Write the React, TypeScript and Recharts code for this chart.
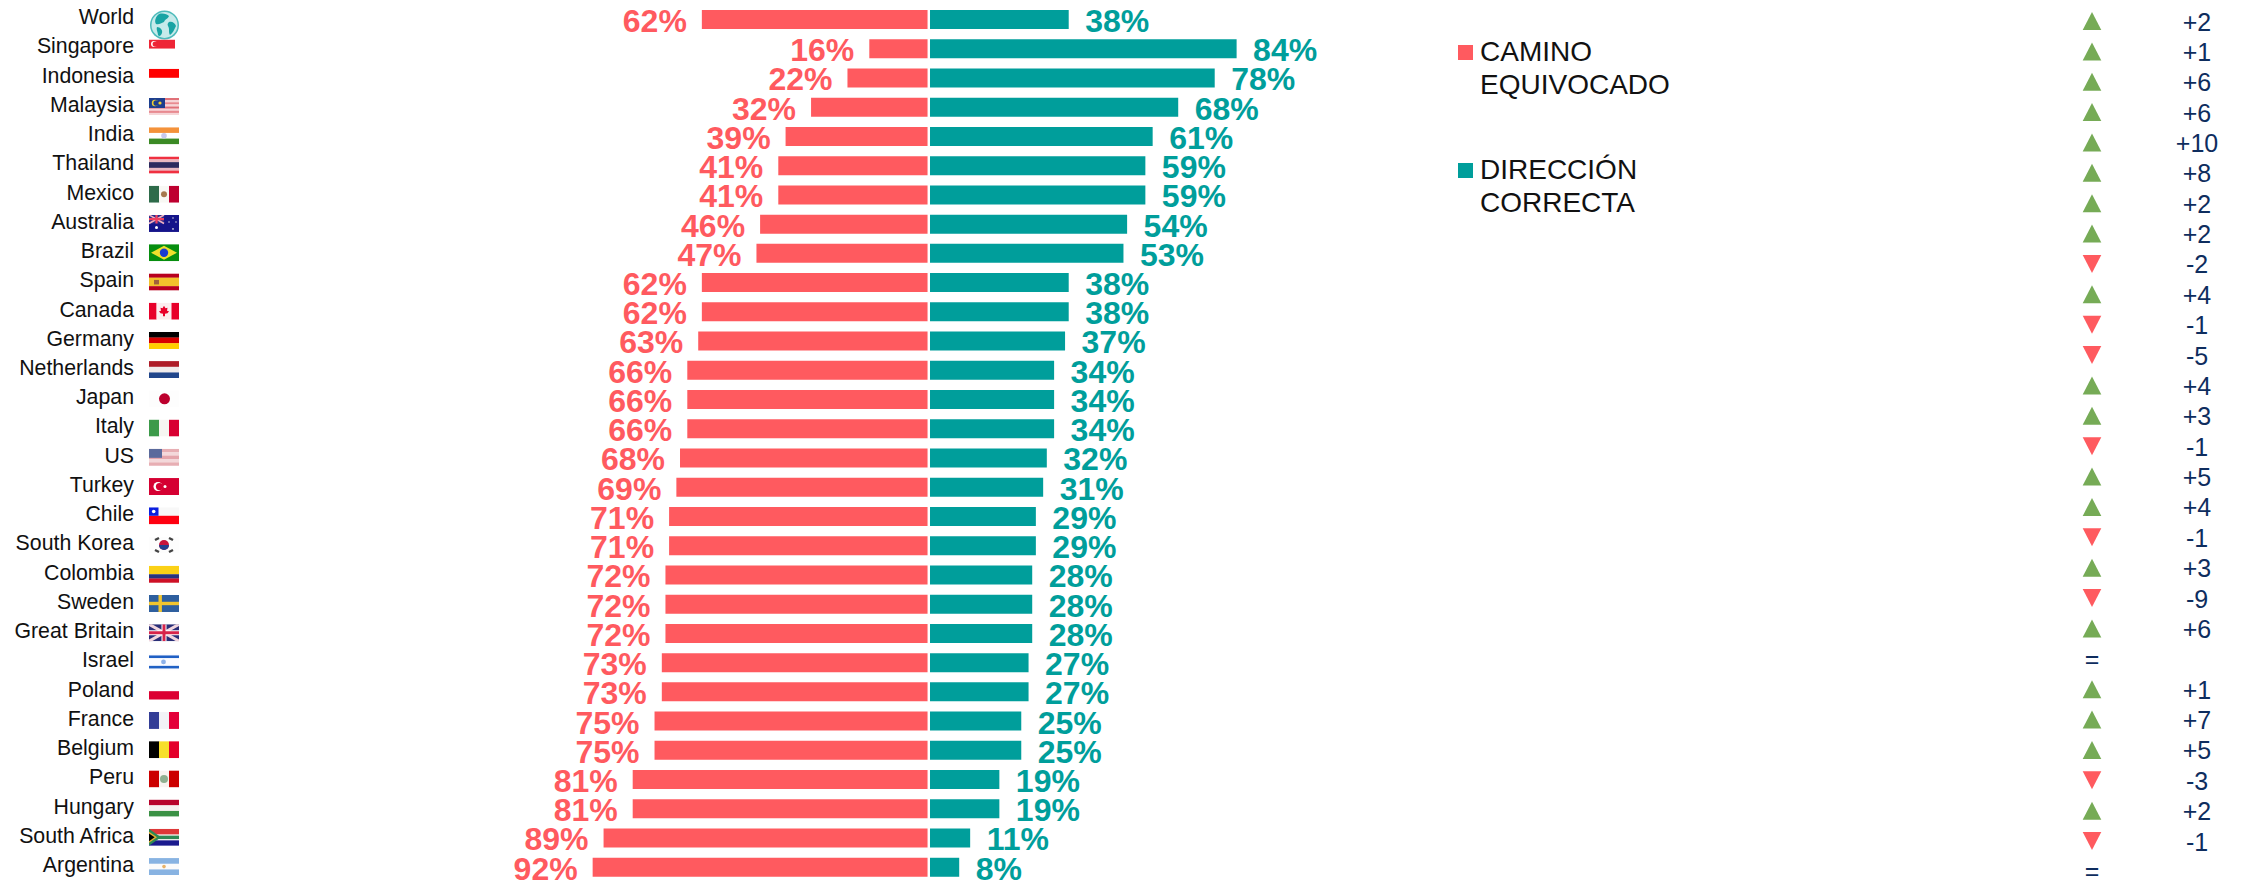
import React from "react";
import { BarChart, Bar, XAxis, YAxis, ReferenceLine, LabelList, Legend } from "recharts";

const countries = ["World","Singapore","Indonesia","Malaysia","India","Thailand","Mexico","Australia","Brazil","Spain","Canada","Germany","Netherlands","Japan","Italy","US","Turkey","Chile","South Korea","Colombia","Sweden","Great Britain","Israel","Poland","France","Belgium","Peru","Hungary","South Africa","Argentina"];
const wrongTrack = [62,16,22,32,39,41,41,46,47,62,62,63,66,66,66,68,69,71,71,72,72,72,73,73,75,75,81,81,89,92];
const rightDirection = [38,84,78,68,61,59,59,54,53,38,38,37,34,34,34,32,31,29,29,28,28,28,27,27,25,25,19,19,11,8];
const changes = ["+2","+1","+6","+6","+10","+8","+2","+2","-2","+4","-1","-5","+4","+3","-1","+5","+4","-1","+3","-9","+6","=","+1","+7","+5","-3","+2","-1","="];
const legendLabels = [["CAMINO","EQUIVOCADO"],["DIRECCIÓN","CORRECTA"]];

const RED = "#FF5A5F";
const TEAL = "#009E9B";
const GREEN = "#76AB56";
const NAVY = "#0E2D5E";
const FONT = "'Liberation Sans', Arial, sans-serif";

const tableData = countries.map((name, i) => ({ name, row: i, wrong: wrongTrack[i], right: rightDirection[i] }));
const changeRows = changes.map((_, i) => i);

const Stripes = ({ colors, vertical }: { colors: [string, number][]; vertical?: boolean }) => {
  const total = colors.reduce((s, c) => s + c[1], 0);
  let pos = 0;
  return (
    <g>
      {colors.map(([c, w], i) => {
        const start = pos;
        pos += w;
        return vertical ? (
          <rect key={i} x={(start / total) * 30} y={0} width={(w / total) * 30 + 0.2} height={17} fill={c} />
        ) : (
          <rect key={i} x={0} y={(start / total) * 17} width={30} height={(w / total) * 17 + 0.2} fill={c} />
        );
      })}
    </g>
  );
};

const flags: Record<string, React.ReactNode> = {
  Singapore: (
    <g>
      <rect width={26} height={9} fill="#EE2536" />
      <circle cx={5} cy={4.5} r={3} fill="#fff" />
      <circle cx={6.2} cy={4.5} r={2.6} fill="#EE2536" />
    </g>
  ),
  Indonesia: <rect width={30} height={9} fill="#FF0000" />,
  Malaysia: (
    <g>
      <Stripes colors={[["#E07078",1],["#F6D5D7",1],["#E88A90",1],["#F6D5D7",1],["#E07078",1],["#F6D5D7",1],["#E88A90",1],["#F6D5D7",1]]} />
      <rect width={16} height={10} fill="#1C3F8F" />
      <circle cx={6} cy={5} r={3.2} fill="#F0D030" />
      <circle cx={7.2} cy={5} r={2.8} fill="#1C3F8F" />
      <circle cx={11} cy={5} r={1.6} fill="#F0D030" />
    </g>
  ),
  India: (
    <g>
      <Stripes colors={[["#F4923A",1],["#ffffff",1],["#3B8A24",1]]} />
      <circle cx={15} cy={8.5} r={2.8} fill="#C9C9EC" />
    </g>
  ),
  Thailand: <Stripes colors={[["#F03040",1],["#E8B8C0",1],["#2C2A5E",2],["#E8B8C0",1],["#F03040",1]]} />,
  Mexico: (
    <g>
      <Stripes vertical colors={[["#2E6B4A",1],["#F8F8F4",1],["#BE0030",1]]} />
      <circle cx={15} cy={8.5} r={3} fill="#A5794E" />
    </g>
  ),
  Australia: (
    <g>
      <rect width={30} height={17} fill="#15148A" />
      <rect width={15} height={8.5} fill="#2A2E8E" />
      <path d="M0 0L15 8.5M15 0L0 8.5" stroke="#F0B0C0" strokeWidth={1.6} />
      <path d="M7.5 0V8.5M0 4.25H15" stroke="#F04060" strokeWidth={2.2} />
      <circle cx={7.5} cy={12.6} r={1.5} fill="#fff" />
      <circle cx={24} cy={3} r={0.8} fill="#ccd" />
      <circle cx={20} cy={7} r={0.8} fill="#ccd" />
      <circle cx={27} cy={7} r={0.8} fill="#ccd" />
      <circle cx={24} cy={14} r={0.9} fill="#ccd" />
    </g>
  ),
  Brazil: (
    <g>
      <rect width={30} height={17} fill="#078E0F" />
      <path d="M15 1.5L28 8.5L15 15.5L2 8.5Z" fill="#EFE02C" />
      <circle cx={15} cy={8.5} r={4.2} fill="#1A3CD0" />
    </g>
  ),
  Spain: (
    <g>
      <Stripes colors={[["#B8001F",1],["#F3C22C",2],["#B8001F",1]]} />
      <rect x={5} y={6.5} width={5} height={4.5} fill="#A0603C" />
    </g>
  ),
  Canada: (
    <g>
      <Stripes vertical colors={[["#E8002A",1],["#FBEDEF",2],["#E8002A",1]]} />
      <path d="M15 3L16.5 5.5L18.5 5L18 8L20 8.5L18.5 10.5L16 11V13.5H14V11L11.5 10.5L10 8.5L12 8L11.5 5L13.5 5.5Z" fill="#E8002A" />
    </g>
  ),
  Germany: <Stripes colors={[["#000000",1],["#D80000",1],["#FFCE00",1]]} />,
  Netherlands: <Stripes colors={[["#AE1C28",1],["#F0ECEC",1],["#21468B",1]]} />,
  Japan: (
    <g>
      <rect width={30} height={17} fill="#FDFDFD" />
      <circle cx={15.5} cy={8.5} r={5.5} fill="#BC002D" />
    </g>
  ),
  Italy: <Stripes vertical colors={[["#3C9A4A",1],["#F6F6F2",1],["#D80032",1]]} />,
  US: (
    <g>
      <Stripes colors={[["#E7AEB3",1],["#F3D8DA",1],["#E4A5AB",1],["#F3D8DA",1],["#E7AEB3",1]]} />
      <rect width={13} height={9} fill="#5A6A9C" />
    </g>
  ),
  Turkey: (
    <g>
      <rect width={30} height={17} fill="#D50032" />
      <circle cx={9} cy={8.5} r={4.5} fill="#fff" />
      <circle cx={10.5} cy={8.5} r={3.6} fill="#D50032" />
      <circle cx={16} cy={8.5} r={1.5} fill="#fff" />
    </g>
  ),
  Chile: (
    <g>
      <Stripes colors={[["#F8F8F8",1],["#FF0010",1]]} />
      <rect width={9.5} height={8.5} fill="#0B1FE0" />
      <circle cx={4.7} cy={4.2} r={1.8} fill="#fff" />
    </g>
  ),
  "South Korea": (
    <g>
      <rect width={30} height={17} fill="#FDFDFD" />
      <circle cx={15} cy={8.5} r={5} fill="#C8143C" />
      <path d="M10 8.5A5 5 0 0 0 20 8.5Z" fill="#23408F" />
      <path d="M6 3.5L10 1.5M20 1.5L24 3.5M6 13.5L10 15.5M20 15.5L24 13.5" stroke="#444" strokeWidth={2.4} />
    </g>
  ),
  Colombia: <Stripes colors={[["#FBD116",2],["#27347F",1],["#CE1126",1]]} />,
  Sweden: (
    <g>
      <rect width={30} height={17} fill="#2E5F9E" />
      <rect x={9.5} width={3.4} height={17} fill="#F2C52E" />
      <rect y={6.8} width={30} height={3.4} fill="#F2C52E" />
    </g>
  ),
  "Great Britain": (
    <g>
      <rect width={30} height={17} fill="#2A2E77" />
      <path d="M0 0L30 17M30 0L0 17" stroke="#F2D6DE" strokeWidth={3} />
      <path d="M15 0V17M0 8.5H30" stroke="#fff" strokeWidth={5} />
      <path d="M15 0V17M0 8.5H30" stroke="#D7244A" strokeWidth={3} />
    </g>
  ),
  Israel: (
    <g>
      <rect width={30} height={17} fill="#FBFBFF" />
      <rect y={2} width={30} height={2.6} fill="#1F5FC4" />
      <rect y={12.4} width={30} height={2.6} fill="#1F5FC4" />
      <circle cx={14.5} cy={8.5} r={2.4} fill="#8FB2EA" />
    </g>
  ),
  Poland: <rect y={8.5} width={30} height={8.5} fill="#DC0032" />,
  France: <Stripes vertical colors={[["#333D96",1],["#F2F2F6",1],["#E4003A",1]]} />,
  Belgium: <Stripes vertical colors={[["#000000",1],["#F7DF2A",1],["#E4002B",1]]} />,
  Peru: (
    <g>
      <Stripes vertical colors={[["#CC0000",1],["#F8F4F0",1],["#CC0000",1]]} />
      <circle cx={15} cy={8.5} r={4} fill="#8FB090" />
    </g>
  ),
  Hungary: <Stripes colors={[["#B8032C",1],["#F5F0F0",1],["#3B9145",1]]} />,
  "South Africa": (
    <g>
      <rect width={30} height={8.5} fill="#DE3838" />
      <rect y={8.5} width={30} height={8.5} fill="#1A1A8E" />
      <rect y={5.5} width={30} height={6} fill="#F4F4F0" />
      <rect y={6.8} width={30} height={3.4} fill="#2F8A55" />
      <path d="M0 0L12 8.5L0 17Z" fill="#2F8A55" />
      <path d="M0 3L8 8.5L0 14Z" fill="#E8B030" />
      <path d="M0 4.6L5.6 8.5L0 12.4Z" fill="#000" />
    </g>
  ),
  Argentina: (
    <g>
      <Stripes colors={[["#88B3E2",1],["#FBFBFB",1],["#88B3E2",1]]} />
      <circle cx={15} cy={8.5} r={1.8} fill="#E8B36A" />
    </g>
  ),
};

const Globe = () => (
  <g>
    <circle cx={15.5} cy={14} r={14.5} fill="#4DBBBB" />
    <circle cx={15.5} cy={14} r={13} fill="#C6EAEA" />
    <path d="M10 3C14 2 18 3 20 5C19 8 16 8 15 11C12 12 10 14 7 13C5 10 7 5 10 3Z" fill="#19A4A4" />
    <path d="M20 11C23 10 26 12 27 15C25 19 24 22 21 24C19 21 21 18 19 15C18 13 19 12 20 11Z" fill="#19A4A4" />
    <path d="M8 16C11 16 14 19 13 22C12 25 10 26 9 24C9 21 7 19 8 16Z" fill="#19A4A4" />
  </g>
);

const CountryTick = (props: any) => {
  const { y, payload } = props;
  const name = payload.value as string;
  return (
    <g>
      <text x={134} y={y + 4.6} textAnchor="end" fontFamily={FONT} fontSize={21.3} fill="#111">{name}</text>
      {name === "World" ? (
        <svg x={149} y={y - 8.7} width={31} height={29} viewBox="0 0 31 29" overflow="visible"><Globe /></svg>
      ) : (
        <svg x={149} y={y - 9.3} width={30} height={17} viewBox="0 0 30 17">{flags[name]}</svg>
      )}
    </g>
  );
};

const ChangeTick = (props: any) => {
  const { y, payload } = props;
  const label = changes[payload.value as number];
  const cx = 2092;
  return (
    <g fontFamily={FONT} fontSize={25} fill={NAVY}>
      {label === "=" ? (
        <text x={cx} y={y + 9} textAnchor="middle">=</text>
      ) : (
        <>
          {label[0] === "+" ? (
            <path d={`M${cx} ${y - 9}L${cx + 9.3} ${y + 9}L${cx - 9.3} ${y + 9}Z`} fill={GREEN} />
          ) : (
            <path d={`M${cx} ${y + 9}L${cx + 9.3} ${y - 9}L${cx - 9.3} ${y - 9}Z`} fill={RED} />
          )}
          <text x={2197} y={y + 9.5} textAnchor="middle">{label}</text>
        </>
      )}
    </g>
  );
};

const RedLabel = (props: any) => {
  const { x, y, width, height, value } = props;
  return (
    <text x={Math.min(x, x + width) - 15} y={y + height / 2 + 12.4} textAnchor="end" fontFamily={FONT} fontWeight={700} fontSize={32} fill={RED}>{`${value}%`}</text>
  );
};
const TealLabel = (props: any) => {
  const { x, y, width, height, value } = props;
  return (
    <text x={x + width + 16.5} y={y + height / 2 + 12.4} textAnchor="start" fontFamily={FONT} fontWeight={700} fontSize={32} fill={TEAL}>{`${value}%`}</text>
  );
};

const legendColors = [RED, TEAL];
const legendTops = [0, 118];
const LegendBlock = () => (
  <div style={{ position: "relative", width: 260, height: 210, fontFamily: FONT, fontSize: 28, lineHeight: "33px", color: "#111" }}>
    {legendLabels.map((lines, i) => (
      <div key={i} style={{ position: "absolute", left: 22, top: legendTops[i], whiteSpace: "nowrap" }}>
        <span style={{ position: "absolute", left: -22, top: 10, width: 15, height: 15, background: legendColors[i] }} />
        {lines.map((l) => <div key={l}>{l}</div>)}
      </div>
    ))}
  </div>
);

const TopLine = (props: any) => (
  <line x1={props.x1 ?? props.viewBox?.x} x2={props.x2 ?? props.viewBox?.x} y1={(props.y1 ?? props.viewBox?.y) + 2} y2={882} stroke="#E4E4E4" strokeWidth={3} />
);

export default function App() {
  return (
    <div style={{ position: "absolute", left: 0, top: 0, width: 2244, height: 882, background: "#fff" }}>
      <BarChart width={2244} height={882} data={tableData} layout="vertical" margin={{ top: 5, right: 0, bottom: 0, left: 0 }} barCategoryGap={0}>
        <XAxis xAxisId="wrong" type="number" hide reversed domain={[-306.7, 213.6]} allowDataOverflow />
        <XAxis xAxisId="right" type="number" hide domain={[-213.7, 305.2]} allowDataOverflow />
        <YAxis yAxisId="left" type="category" dataKey="name" width={150} tick={CountryTick} tickLine={false} axisLine={false} interval={0} />
        <YAxis yAxisId="change" orientation="right" type="number" dataKey="row" domain={[-0.527, 28.35]} ticks={changeRows} width={200} tick={ChangeTick} tickLine={false} axisLine={false} interval={0} allowDataOverflow />
        <Bar xAxisId="wrong" yAxisId="left" stackId="row" dataKey="wrong" name="CAMINO EQUIVOCADO" fill={RED} barSize={19} isAnimationActive={false}>
          <LabelList dataKey="wrong" content={RedLabel} />
        </Bar>
        <Bar xAxisId="right" yAxisId="left" stackId="row" dataKey="right" name="DIRECCIÓN CORRECTA" fill={TEAL} barSize={19} isAnimationActive={false}>
          <LabelList dataKey="right" content={TealLabel} />
        </Bar>
        <ReferenceLine xAxisId="wrong" yAxisId="left" x={0} shape={TopLine} />
        <Legend layout="vertical" align="center" verticalAlign="middle" content={LegendBlock} wrapperStyle={{ position: "absolute", left: 1458, top: 35, width: 260, height: 210 }} />
      </BarChart>
    </div>
  );
}
